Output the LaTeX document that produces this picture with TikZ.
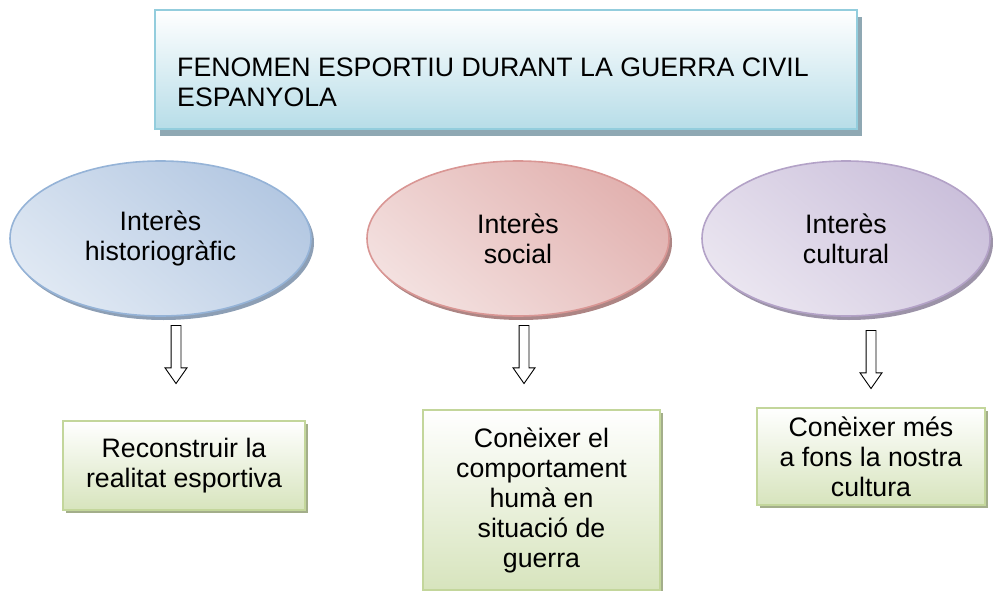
\documentclass[tikz,border=0pt]{standalone}
\usepackage{fontspec}
\setmainfont{Liberation Sans}
\usepackage{tikz}
\usetikzlibrary{shapes.geometric, shapes.arrows, shadows}

\definecolor{titlin}{HTML}{93CDDD}
\definecolor{titfons}{HTML}{B7DDE8}
\definecolor{titomb}{HTML}{8FA8B3}
\definecolor{blaulin}{HTML}{95B3D7}
\definecolor{blauclar}{HTML}{DFE8F3}
\definecolor{blaufosc}{HTML}{B4C8E2}
\definecolor{blauomb}{HTML}{8D9FB5}
\definecolor{vermlin}{HTML}{D99694}
\definecolor{vermclar}{HTML}{F3E0DF}
\definecolor{vermfosc}{HTML}{E2B2B0}
\definecolor{vermomb}{HTML}{AD8584}
\definecolor{liloslin}{HTML}{B3A2C7}
\definecolor{liloclar}{HTML}{EAE5F0}
\definecolor{lilofosc}{HTML}{CBC0DB}
\definecolor{liloomb}{HTML}{9C93A8}
\definecolor{verdlin}{HTML}{C3D69B}
\definecolor{verdfons}{HTML}{D7E4BD}
\definecolor{verdomb}{HTML}{A3AE8A}

\begin{document}
\begin{tikzpicture}[x=1pt, y=-1pt]
\tikzstyle{lletra}=[font=\fontsize{26.7}{30}\selectfont]
\tikzstyle{oval}=[ellipse, lletra, line width=1.6pt, minimum height=155pt, inner sep=0pt, align=center]
\tikzstyle{caixa}=[rectangle, lletra, draw=verdlin, line width=1.6pt, top color=white, bottom color=verdfons, align=center, inner sep=0pt, drop shadow={shadow xshift=3pt, shadow yshift=-3pt, fill=verdomb, opacity=1}]
\tikzstyle{fletxa}=[single arrow, draw, fill=white, line width=0.9pt, minimum height=58pt, inner xsep=0pt, inner ysep=4.5pt, single arrow head extend=6pt, single arrow tip angle=70, rotate=-90]
\useasboundingbox (0,0) rectangle (993,591);

\node[rectangle, draw=titlin, line width=1.6pt, top color=white, bottom color=titfons, minimum width=702pt, minimum height=119pt, drop shadow={shadow xshift=5pt, shadow yshift=-7pt, fill=titomb, opacity=1}] (titol) at (506,69.5) {};
\node[lletra, anchor=west, align=left, inner sep=0pt] (titoltxt) at (177,82) {FENOMEN ESPORTIU DURANT LA GUERRA CIVIL\\ESPANYOLA};

\node[oval, draw=blaulin, top color=blaufosc, bottom color=blauclar, shading angle=-40, minimum width=301pt, drop shadow={shadow xshift=3pt, shadow yshift=-4pt, fill=blauomb, opacity=1}] (hist) at (160.5,238.5) {Interès\\historiogràfic};
\node[oval, draw=vermlin, top color=vermfosc, bottom color=vermclar, shading angle=-40, minimum width=302pt, drop shadow={shadow xshift=3pt, shadow yshift=-4pt, fill=vermomb, opacity=1}] (soc) at (518,238.5) {Interès\\social};
\node[oval, draw=liloslin, top color=lilofosc, bottom color=liloclar, shading angle=-40, minimum width=288pt, drop shadow={shadow xshift=3pt, shadow yshift=-4pt, fill=liloomb, opacity=1}] (cult) at (846,238.5) {Interès\\cultural};

\node[caixa, minimum width=242pt, minimum height=89pt] (rec) at (184,465.5) {Reconstruir la\\realitat esportiva};
\node[caixa, minimum width=237pt, minimum height=180pt] (comp) at (541.5,500) {Conèixer el\\comportament\\humà en\\situació de\\guerra};
\node[caixa, minimum width=228pt, minimum height=97pt] (fons) at (871,456.5) {Conèixer més\\a fons la nostra\\cultura};

\coordinate (h1) at (176,322);
\coordinate (h2) at (176,380);
\coordinate (s1) at (524,322);
\coordinate (s2) at (524,380);
\coordinate (c1) at (871,327);
\coordinate (c2) at (871,385);
\path (h1) -- node[fletxa]{} (h2)
      (s1) -- node[fletxa]{} (s2)
      (c1) -- node[fletxa]{} (c2);
\end{tikzpicture}
\end{document}
